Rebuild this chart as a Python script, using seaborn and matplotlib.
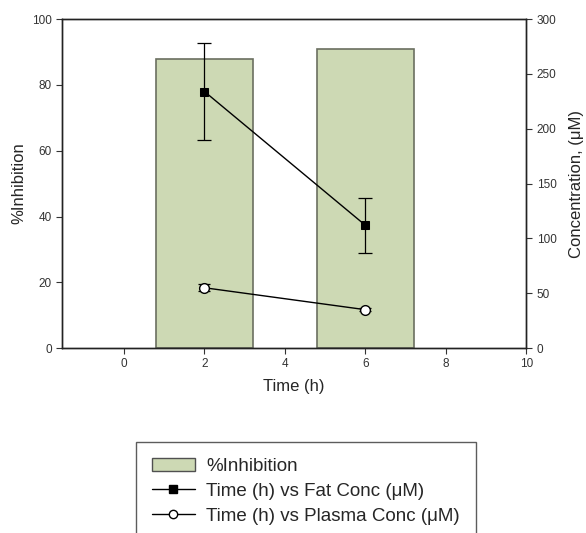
import numpy as np
import pandas as pd
import seaborn as sns
import matplotlib.pyplot as plt
from matplotlib.patches import Patch
from matplotlib.lines import Line2D

# data
times = [2, 6]
inhibition = [88, 91]
fat_conc = [234, 112]
fat_err = [44, 25]
plasma_conc = [55, 35]
plasma_err = [3, 1.5]

sns.set_style("ticks")
plt.rcParams['font.family'] = ['Liberation Sans', 'DejaVu Sans']

bar_color = "#cdd9b4"
bar_edge = "#6b6f60"

fig = plt.figure(figsize=(5.86, 5.33), dpi=100)
ax = fig.add_axes([0.106, 0.347, 0.792, 0.617])

df = pd.DataFrame({"time": times, "inhibition": inhibition})
sns.barplot(data=df, x="time", y="inhibition", native_scale=True, width=0.6,
            color=bar_color, edgecolor=bar_edge, linewidth=1.2, saturation=1, ax=ax)
ax.set_xlim(-1.54, 10)
ax.set_ylim(0, 100)
ax.set_xticks([0, 2, 4, 6, 8, 10])
ax.set_yticks([0, 20, 40, 60, 80, 100])
ax.set_xlabel("Time (h)", fontsize=12, labelpad=6)
ax.set_ylabel("%Inhibition", fontsize=12, labelpad=4)
ax.tick_params(labelsize=8.5, length=4, width=0.8, colors="#333333", labelcolor="#333333")

ax2 = ax.twinx()
conc = pd.DataFrame({"time": times, "fat": fat_conc, "plasma": plasma_conc})
ax2.errorbar(times, fat_conc, yerr=fat_err, fmt="none", ecolor="black",
             elinewidth=0.9, capsize=5, capthick=0.9, zorder=2)
ax2.errorbar(times, plasma_conc, yerr=plasma_err, fmt="none", ecolor="black",
             elinewidth=0.9, capsize=4, capthick=0.9, zorder=2)
sns.lineplot(data=conc, x="time", y="fat", color="black", marker="s", markersize=6,
             markeredgecolor="black", linewidth=1, ax=ax2, zorder=3)
sns.lineplot(data=conc, x="time", y="plasma", color="black", marker="o", markersize=7,
             markerfacecolor="white", markeredgecolor="black", markeredgewidth=1,
             linewidth=1, ax=ax2, zorder=3)
ax2.set_ylim(0, 300)
ax2.set_yticks([0, 50, 100, 150, 200, 250, 300])
ax2.set_ylabel("Concentration, (\u03bcM)", fontsize=12, labelpad=9)
ax2.set_xlabel("")
ax2.tick_params(labelsize=8.5, length=4, width=0.8, colors="#333333", labelcolor="#333333")

for a in (ax, ax2):
    for s in a.spines.values():
        s.set_linewidth(1)
        s.set_color("#222222")

handles = [
    Patch(facecolor=bar_color, edgecolor="#505050", label="%Inhibition"),
    Line2D([], [], color="black", marker="s", markersize=6, linewidth=1,
           label="Time (h) vs Fat Conc (\u03bcM)"),
    Line2D([], [], color="black", marker="o", markersize=6, markerfacecolor="white",
           linewidth=1, label="Time (h) vs Plasma Conc (\u03bcM)"),
]
leg = fig.legend(handles=handles, loc="upper left", bbox_to_anchor=(0.232, 0.171),
                 borderaxespad=0, frameon=True, fancybox=False, edgecolor="#333333",
                 fontsize=13.5, borderpad=0.85, labelspacing=0.42, handlelength=2.3,
                 handletextpad=0.6)
leg.get_frame().set_linewidth(1)

fig.savefig("out.png", dpi=100)
